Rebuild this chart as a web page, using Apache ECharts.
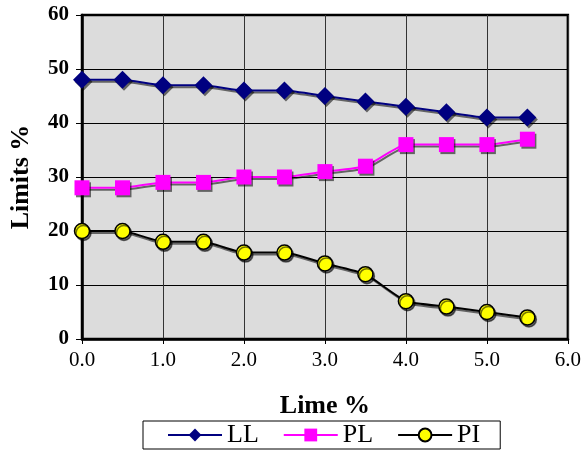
<!DOCTYPE html>
<html><head><meta charset="utf-8">
<script src="https://cdn.jsdelivr.net/npm/echarts@6/dist/echarts.min.js"></script>
<style>html,body{margin:0;padding:0;background:#fff}#c{width:584px;height:452px}</style>
</head><body><div id="c"></div>
<script>
const lime = [0, 0.5, 1.0, 1.5, 2.0, 2.5, 3.0, 3.5, 4.0, 4.5, 5.0, 5.5];
const LL = [48, 48, 47, 47, 46, 46, 45, 44, 43, 42, 41, 41];
const PL = [28, 28, 29, 29, 30, 30, 31, 32, 36, 36, 36, 37];
const PI = [20, 20, 18, 18, 16, 16, 14, 12, 7, 6, 5, 4];
const pairs = a => lime.map((x, i) => [x, a[i]]);
const font = '"Liberation Serif", "Times New Roman", serif';
const shadow = {shadowColor: 'rgba(0,0,0,0.55)', shadowOffsetX: 1.5, shadowOffsetY: 2, shadowBlur: 0};
const chart = echarts.init(document.getElementById('c'));
chart.setOption({
  animation: false,
  grid: {left: 82, right: 12, top: 15, bottom: 113, show: true, backgroundColor: '#dcdcdc', borderColor: '#000', borderWidth: 2.5},
  xAxis: {
    type: 'value', min: 0, max: 6, interval: 1,
    name: 'Lime %', nameLocation: 'middle', nameGap: 54,
    nameTextStyle: {fontFamily: font, fontSize: 26, fontWeight: 'bold', color: '#000'},
    axisLine: {show: true, onZero: false, lineStyle: {color: '#000', width: 2.5}},
    axisTick: {show: true, length: 5, lineStyle: {color: '#000', width: 1}},
    axisLabel: {fontFamily: font, fontSize: 21, color: '#000', margin: 11, formatter: v => v.toFixed(1)},
    splitLine: {show: true, lineStyle: {color: '#333', width: 1}}
  },
  yAxis: {
    type: 'value', min: 0, max: 60, interval: 10,
    name: 'Limits %', nameLocation: 'middle', nameGap: 48,
    nameTextStyle: {fontFamily: font, fontSize: 26, fontWeight: 'bold', color: '#000'},
    axisLine: {show: true, lineStyle: {color: '#000', width: 2.5}},
    axisTick: {show: true, length: 6, lineStyle: {color: '#000', width: 1}},
    axisLabel: {fontFamily: font, fontSize: 21, fontWeight: 'bold', color: '#000', margin: 13},
    splitLine: {show: true, lineStyle: {color: '#000', width: 1}}
  },
  legend: {
    bottom: 3, left: 143,
    borderColor: '#000', borderWidth: 1, padding: [1, 20, 1, 24],
    itemWidth: 54, itemHeight: 16, itemGap: 24,
    textStyle: {fontFamily: font, fontSize: 26, color: '#000'},
    data: ['LL', 'PL', 'PI']
  },
  series: [
    {name: 'LL', type: 'line', data: pairs(LL), smooth: 0.15, symbol: 'diamond', symbolSize: [18, 18],
     lineStyle: Object.assign({color: '#000080', width: 2}, shadow),
     itemStyle: Object.assign({color: '#000080'}, shadow)},
    {name: 'PL', type: 'line', data: pairs(PL), smooth: 0.15, symbol: 'rect', symbolSize: 15,
     lineStyle: Object.assign({color: '#ff00ff', width: 2}, shadow),
     itemStyle: Object.assign({color: '#ff00ff'}, shadow)},
    {name: 'PI', type: 'line', data: pairs(PI), smooth: 0.15, symbol: 'circle', symbolSize: 15,
     lineStyle: Object.assign({color: '#000', width: 2}, shadow),
     itemStyle: Object.assign({color: '#ffff00', borderColor: '#000', borderWidth: 1.5}, shadow)}
  ]
});
</script></body></html>
